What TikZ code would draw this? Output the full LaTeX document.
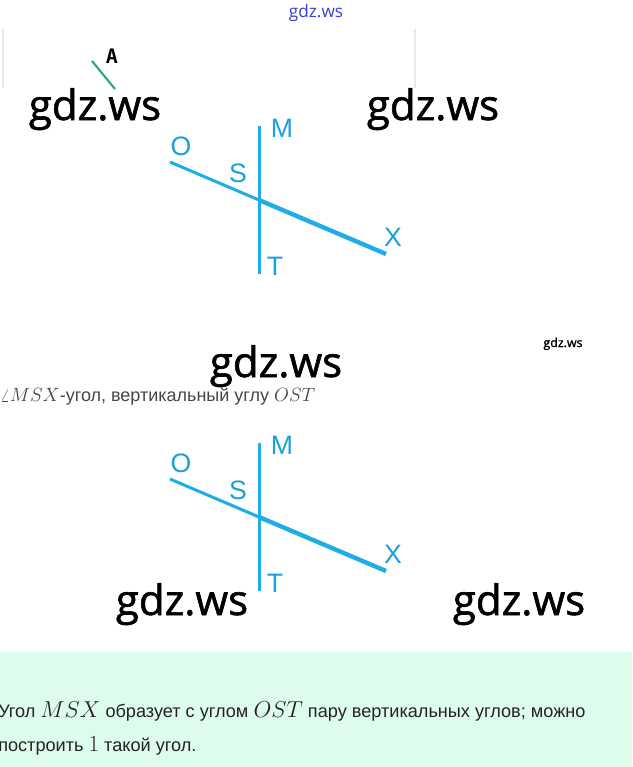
\documentclass[tikz,border=0pt]{standalone}
\usepackage[no-math]{fontspec}
\setmainfont{Liberation Sans}
\newfontfamily\markfont[FakeBold=1.4]{Open Sans}
\newfontfamily\linkfont{Open Sans}
\newfontfamily\letterfont{DejaVu Sans Mono}
\definecolor{lineblue}{RGB}{32,172,230}
\definecolor{labelblue}{RGB}{28,160,218}
\definecolor{segreen}{RGB}{45,170,115}
\definecolor{framegray}{RGB}{232,232,232}
\definecolor{linkblue}{RGB}{60,60,215}
\definecolor{notegreen}{RGB}{221,252,236}
\definecolor{textgray}{RGB}{70,70,70}
\definecolor{textdark}{RGB}{35,35,35}
\newcommand\mathpart[2]{{\fontsize{#1}{#1}\selectfont$#2$}}
\tikzset{
  ray/.style={draw=lineblue, line width=2.25pt},
  thickray/.style={ray, line width=3.3pt},
  ptlabel/.style={text=labelblue, inner sep=0pt, font=\fontsize{20}{20}\selectfont},
  wmark/.style={anchor=base, inner sep=0pt, font=\markfont\fontsize{31.5}{31.5}\selectfont},
  notetext/.style={anchor=base west, inner sep=0pt, text=textdark, font=\fontsize{13.6}{15}\selectfont}
}
\begin{document}
\begin{tikzpicture}[x=0.75pt, y=-0.75pt]
  \useasboundingbox (0,0) rectangle (632,767);
  \fill[white] (0,0) rectangle (632,767);
  % header
  \node[anchor=base, inner sep=0pt, text=linkblue, font=\linkfont\fontsize{12.9}{13}\selectfont] (link) at (316,18) {gdz.ws};
  \draw[framegray, line width=1.2pt] (3,29) -- (3,88);
  \draw[framegray, line width=1.2pt] (415,29) -- (415,88);
  \coordinate (a1) at (92,61);
  \coordinate (a2) at (115,89);
  \draw[segreen, line width=1.6pt] (a1) -- (a2);
  \node[inner sep=0pt, font=\letterfont\bfseries\fontsize{15}{15}\selectfont] (A) at (112,56) {A};
  % first drawing
  \begin{scope}
    \coordinate (O1) at (170,162);
    \coordinate (S1) at (259,200);
    \coordinate (X1) at (386,254);
    \coordinate (M1) at (259,126);
    \coordinate (T1) at (259,274);
    \draw[ray] (O1) -- (S1);
    \draw[thickray] (S1) -- (X1);
    \draw[ray] (M1) -- (T1);
    \node[ptlabel] (lO1) at (181,146) {O};
    \node[ptlabel] (lS1) at (238,173) {S};
    \node[ptlabel] (lM1) at (282,128) {M};
    \node[ptlabel] (lX1) at (393,237) {X};
    \node[ptlabel] (lT1) at (275,266) {T};
  \end{scope}
  % second drawing
  \begin{scope}[shift={(0,317)}]
    \coordinate (O2) at (170,162);
    \coordinate (S2) at (259,200);
    \coordinate (X2) at (386,254);
    \coordinate (M2) at (259,126);
    \coordinate (T2) at (259,274);
    \draw[ray] (O2) -- (S2);
    \draw[thickray] (S2) -- (X2);
    \draw[ray] (M2) -- (T2);
    \node[ptlabel] (lO2) at (181,146) {O};
    \node[ptlabel] (lS2) at (238,173) {S};
    \node[ptlabel] (lM2) at (282,128) {M};
    \node[ptlabel] (lX2) at (393,237) {X};
    \node[ptlabel] (lT2) at (275,266) {T};
  \end{scope}
  % caption between the drawings
  \node[anchor=base west, inner sep=0pt, text=textgray, font=\fontsize{13.5}{15}\selectfont] (caption) at (0,401)
    {\mathpart{13.5}{\angle MSX}-угол, вертикальный углу \mathpart{14.5}{OST}};
  % answer box
  \fill[notegreen] (0,652) rectangle (632,767);
  \node[notetext] (line1) at (-2,717)
    {Угол \mathpart{17}{MSX} образует с углом \mathpart{17}{OST} пару вертикальных углов; можно};
  \node[notetext] (line2) at (-2,751)
    {построить \mathpart{17}{1} такой угол.};
  % watermarks
  \node[wmark] (w1) at (95,120) {gdz.ws};
  \node[wmark] (w2) at (433,120) {gdz.ws};
  \node[wmark] (w3) at (276,377) {gdz.ws};
  \node[wmark] (w4) at (182,615) {gdz.ws};
  \node[wmark] (w5) at (519,615) {gdz.ws};
  \node[anchor=base, inner sep=0pt, font=\markfont\fontsize{9.3}{10}\selectfont] (w6) at (563,347) {gdz.ws};
\end{tikzpicture}
\end{document}
